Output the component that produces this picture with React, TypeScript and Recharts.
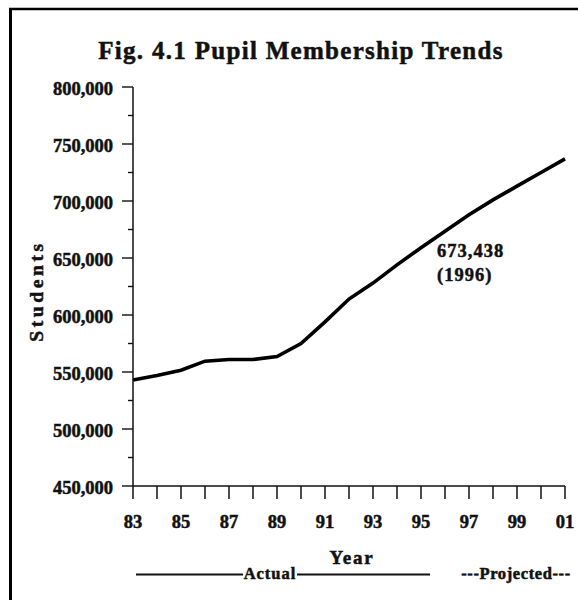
import React from 'react';
import { LineChart, Line, XAxis, YAxis, LabelList } from 'recharts';

const years = [1983, 1984, 1985, 1986, 1987, 1988, 1989, 1990, 1991, 1992, 1993, 1994, 1995, 1996, 1997, 1998, 1999, 2000, 2001];
const students = [543000, 547000, 551500, 559500, 561000, 561000, 563500, 575000, 594000, 614000, 628000, 644000, 659000, 673438, 688000, 701000, 713000, 725000, 737000];
const yTicks = [450000, 475000, 500000, 525000, 550000, 575000, 600000, 625000, 650000, 675000, 700000, 725000, 750000, 775000, 800000];
const yLabelTicks = [450000, 500000, 550000, 600000, 650000, 700000, 750000, 800000];
const labelYears = [1983, 1985, 1987, 1989, 1991, 1993, 1995, 1997, 1999, 2001];
const annotationYear = 1996;
const annotationLines = ['673,438', '(1996)'];
const titleText = 'Fig. 4.1 Pupil Membership Trends';
const xTitle = 'Year';
const yTitle = 'Students';
const actualText = 'Actual';
const projectedText = '---Projected---';

const data = years.map((year, i) => ({ year, students: students[i] }));

const FONT = '"Liberation Serif", "Times New Roman", serif';
const bold = { fontFamily: FONT, fontWeight: 'bold' as const, fill: '#111', stroke: '#111', strokeWidth: 0.5 };

const YTick = (props: any) => {
  const { x, y, payload } = props;
  const v = payload.value;
  const major = yLabelTicks.includes(v);
  return (
    <g>
      <line x1={major ? x + 9 : x + 15} x2={x + 20} y1={y} y2={y} stroke="#111" strokeWidth={1.4} />
      {major && (
        <text x={x} y={y} dy={8} textAnchor="end" fontSize={18.5} {...bold}>
          {v.toLocaleString('en-US')}
        </text>
      )}
    </g>
  );
};

const XTick = (props: any) => {
  const { x, y, payload } = props;
  const v = payload.value;
  if (!labelYears.includes(v)) return <g />;
  return (
    <text x={x} y={y} dy={12.5} textAnchor="middle" fontSize={18.5} {...bold}>
      {String(v).slice(2)}
    </text>
  );
};

const annIndex = years.indexOf(annotationYear);

const renderAnnotation = (props: any) => {
  const { x, y, index } = props;
  if (index !== annIndex) return null;
  return (
    <g>
      {annotationLines.map((t, i) => (
        <text key={i} x={x - 8} y={y + 26 + i * 24} fontSize={18.5} letterSpacing={1} {...bold}>
          {t}
        </text>
      ))}
    </g>
  );
};

export default function App() {
  return (
    <div style={{ position: 'absolute', left: 0, top: 0, width: 578, height: 600, background: '#fff', overflow: 'hidden' }}>
      <LineChart width={578} height={600} data={data} margin={{ top: 87, right: 13, bottom: 0, left: 0 }}>
        <XAxis
          dataKey="year"
          type="number"
          domain={[1983, 2001]}
          ticks={years}
          interval={0}
          height={114}
          tickSize={13}
          tickMargin={16}
          stroke="#111"
          strokeWidth={1.5}
          tick={<XTick />}
        />
        <XAxis xAxisId="top" dataKey="year" type="number" domain={[1983, 2001]} orientation="top" height={0} tick={false} tickLine={false} stroke="#111" strokeWidth={1.5} />
        <YAxis
          type="number"
          domain={[450000, 800000]}
          ticks={yTicks}
          interval={0}
          width={133}
          tickSize={11}
          tickMargin={9}
          tickLine={false}
          stroke="#111"
          strokeWidth={1.5}
          tick={<YTick />}
        />
        <YAxis yAxisId="right" orientation="right" width={0} domain={[450000, 800000]} tick={false} tickLine={false} stroke="#111" strokeWidth={1.5} />
        <Line dataKey="students" type="linear" stroke="#000" strokeWidth={3.6} dot={false} isAnimationActive={false}>
          <LabelList dataKey="students" content={renderAnnotation} />
        </Line>
      </LineChart>
      <svg width={578} height={600} style={{ position: 'absolute', left: 0, top: 0, pointerEvents: 'none' }}>
        <line x1={10.5} x2={10.5} y1={8} y2={600} stroke="#000" strokeWidth={3} />
        <line x1={9} x2={578} y1={9} y2={9} stroke="#000" strokeWidth={2.5} />
        <text x={301} y={59} textAnchor="middle" fontSize={25} letterSpacing={1.3} {...bold}>
          {titleText}
        </text>
        <text x={37} y={291} transform="rotate(-90 37 291)" dy={6} textAnchor="middle" fontSize={19.5} letterSpacing={3.6} {...bold}>
          {yTitle}
        </text>
        <text x={352} y={564} textAnchor="middle" fontSize={19} letterSpacing={1.8} {...bold}>
          {xTitle}
        </text>
        <line x1={136} x2={243} y1={574.5} y2={574.5} stroke="#111" strokeWidth={2} />
        <text x={270} y={579} textAnchor="middle" fontSize={16.5} letterSpacing={1} {...bold}>
          {actualText}
        </text>
        <line x1={297} x2={430} y1={574.5} y2={574.5} stroke="#111" strokeWidth={2} />
        <text x={516} y={579} textAnchor="middle" fontSize={16.5} letterSpacing={0.6} {...bold}>
          {projectedText}
        </text>
      </svg>
    </div>
  );
}
